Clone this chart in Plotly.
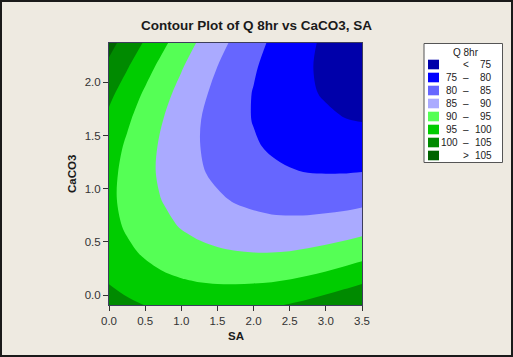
import plotly.graph_objects as go

# Data
sa_values = [0.0, 0.25, 0.5, 0.75, 1.0, 1.25, 1.5, 1.75, 2.0, 2.25, 2.5, 2.75, 3.0, 3.25, 3.5]
caco3_values = [-0.1, 0.15, 0.4, 0.65, 0.9, 1.15, 1.4, 1.65, 1.9, 2.15, 2.4]
q8hr = [
    [102.1, 101.0, 100.0, 99.3, 98.8, 98.6, 98.5, 98.7, 99.0, 99.6, 100.4, 101.3, 102.5, 103.8, 105.3],
    [99.5, 98.0, 96.8, 95.8, 95.1, 94.5, 94.2, 94.1, 94.2, 94.4, 94.9, 95.6, 96.5, 97.6, 98.8],
    [97.6, 95.9, 94.4, 93.1, 92.0, 91.2, 90.6, 90.2, 90.0, 90.0, 90.2, 90.7, 91.3, 92.1, 93.1],
    [96.5, 94.4, 92.6, 91.1, 89.7, 88.6, 87.7, 87.0, 86.6, 86.3, 86.3, 86.4, 86.8, 87.3, 88.0],
    [96.0, 93.7, 91.6, 89.8, 88.1, 86.7, 85.6, 84.6, 83.9, 83.3, 83.0, 82.9, 83.0, 83.2, 83.7],
    [96.3, 93.7, 91.3, 89.1, 87.2, 85.5, 84.1, 82.9, 81.8, 81.0, 80.4, 80.0, 79.9, 79.9, 80.1],
    [97.3, 94.3, 91.7, 89.2, 87.0, 85.1, 83.3, 81.8, 80.5, 79.4, 78.5, 77.9, 77.4, 77.2, 77.1],
    [98.9, 95.7, 92.7, 90.0, 87.5, 85.2, 83.2, 81.4, 79.8, 78.5, 77.3, 76.4, 75.7, 75.1, 74.8],
    [101.2, 97.7, 94.4, 91.4, 88.6, 86.1, 83.8, 81.7, 79.8, 78.2, 76.8, 75.5, 74.6, 73.8, 73.2],
    [104.2, 100.4, 96.8, 93.5, 90.4, 87.6, 85.0, 82.6, 80.5, 78.5, 76.8, 75.4, 74.1, 73.0, 72.2],
    [106.5, 103.7, 99.8, 96.2, 92.9, 89.7, 86.8, 84.2, 81.7, 79.5, 77.6, 75.8, 74.3, 72.9, 71.8],
]
levels = [75, 80, 85, 90, 95, 100, 105]
band_colors = ["#0000AA", "#0000FF", "#6666FF", "#AAAAFF", "#55FF55", "#00CC00", "#008A00", "#006400"]
x_ticks = [0.0, 0.5, 1.0, 1.5, 2.0, 2.5, 3.0, 3.5]
y_ticks = [0.0, 0.5, 1.0, 1.5, 2.0]

W, H = 513, 357
L, R, T, B = 109, 362, 43, 305   # plot area in pixels

def px(p):
    return (p - L) / (R - L)

def py(p):
    return (B - p) / (B - T)

step = levels[1] - levels[0]
n = len(band_colors) - 1
cs = [[i / n, band_colors[i]] for i in range(n + 1)]

fig = go.Figure(go.Contour(
    x=sa_values, y=caco3_values, z=q8hr, colorscale=cs, showscale=False,
    contours=dict(start=levels[0], end=levels[-1], size=step, coloring="fill", showlines=False),
    hoverinfo="skip"))

font = "Liberation Sans, Arial, sans-serif"
axis_common = dict(showline=True, mirror=True, linecolor="#3D3D5C", linewidth=1,
                   ticks="outside", ticklen=5, tickcolor="#333333", tickwidth=1,
                   showgrid=False, zeroline=False,
                   tickfont=dict(family=font, size=11.5, color="#333333"))
fig.update_layout(
    width=W, height=H,
    margin=dict(l=L, r=W - R, t=T, b=H - B),
    paper_bgcolor="#EEEAE1", plot_bgcolor="#EEEAE1",
    showlegend=False,
    xaxis=dict(range=[0, 3.5], tickvals=x_ticks, tickformat=".1f", **axis_common),
    yaxis=dict(range=[-0.094, 2.371], tickvals=y_ticks, tickformat=".1f", **axis_common),
)

shapes = []
annotations = []
# outer frame
shapes.append(dict(type="rect", xref="paper", yref="paper",
                   x0=px(1), x1=px(W - 1), y0=py(H - 1), y1=py(1),
                   line=dict(color="#1A1A1A", width=2), fillcolor="rgba(0,0,0,0)", layer="above"))
# title and axis titles
annotations.append(dict(text="<b>Contour Plot of Q 8hr vs CaCO3, SA</b>", xref="paper", yref="paper",
                        x=px(256), y=py(25), showarrow=False, xanchor="center", yanchor="middle",
                        font=dict(family=font, size=13.5, color="#1A1A1A")))
annotations.append(dict(text="<b>SA</b>", xref="paper", yref="paper",
                        x=px(236), y=py(336), showarrow=False, xanchor="center", yanchor="middle",
                        font=dict(family=font, size=11.5, color="#1A1A1A")))
annotations.append(dict(text="<b>CaCO3</b>", xref="paper", yref="paper", textangle=-90,
                        x=px(72), y=py(174), showarrow=False, xanchor="center", yanchor="middle",
                        font=dict(family=font, size=11.5, color="#1A1A1A")))

# legend box
shapes.append(dict(type="rect", xref="paper", yref="paper",
                   x0=px(424), x1=px(502.5), y0=py(162.5), y1=py(43.5),
                   line=dict(color="#555555", width=1), fillcolor="#FFFFFF", layer="above"))
annotations.append(dict(text="Q 8hr", xref="paper", yref="paper", x=px(466), y=py(53),
                        showarrow=False, xanchor="center", yanchor="middle",
                        font=dict(family=font, size=10, color="#222222")))
labels_low = [None] + [str(v) for v in levels[:-1]]
labels_high = [str(v) for v in levels] + [str(levels[-1])]
lf = dict(family=font, size=10, color="#222222")
for i, col in enumerate(band_colors):
    cy = 64.5 + 13 * i
    shapes.append(dict(type="rect", xref="paper", yref="paper",
                       x0=px(428), x1=px(439), y0=py(cy + 4.8), y1=py(cy - 4.8),
                       line=dict(width=0), fillcolor=col, layer="above"))
    if i == 0:
        mid = "<"
    elif i == len(band_colors) - 1:
        mid = ">"
    else:
        mid = "–"
        annotations.append(dict(text=labels_low[i], xref="paper", yref="paper", x=px(459.5), y=py(cy),
                                showarrow=False, xanchor="right", yanchor="middle", font=lf))
    annotations.append(dict(text=mid, xref="paper", yref="paper", x=px(466), y=py(cy),
                            showarrow=False, xanchor="center", yanchor="middle", font=lf))
    hi = labels_high[i]
    annotations.append(dict(text=hi, xref="paper", yref="paper", x=px(493.5), y=py(cy),
                            showarrow=False, xanchor="right", yanchor="middle", font=lf))

fig.update_layout(shapes=shapes, annotations=annotations)
fig.write_html("out.html")
